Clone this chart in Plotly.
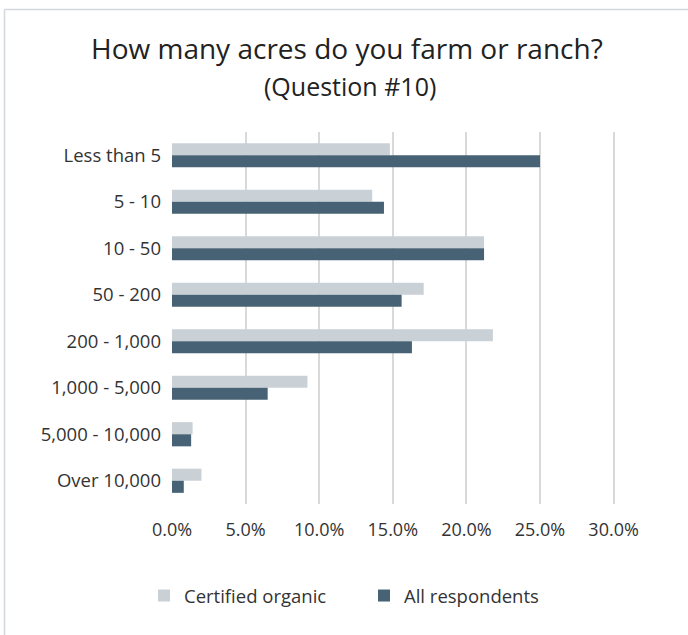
import plotly.graph_objects as go

categories = ["Less than 5", "5 - 10", "10 - 50", "50 - 200", "200 - 1,000",
              "1,000 - 5,000", "5,000 - 10,000", "Over 10,000"]
certified_organic = [14.8, 13.6, 21.2, 17.1, 21.8, 9.2, 1.4, 2.0]
all_respondents = [25.0, 14.4, 21.2, 15.6, 16.3, 6.5, 1.3, 0.8]
x_ticks = [0, 5, 10, 15, 20, 25, 30]
x_tick_labels = ["0.0%", "5.0%", "10.0%", "15.0%", "20.0%", "25.0%", "30.0%"]

FONT = "Open Sans"
TEXT = "#333333"

fig = go.Figure()
fig.add_trace(go.Bar(y=categories, x=certified_organic, orientation="h",
                     name="Certified organic",
                     marker=dict(color="#c9d1d7", line=dict(width=0))))
fig.add_trace(go.Bar(y=categories, x=all_respondents, orientation="h",
                     name="All respondents",
                     marker=dict(color="#476274", line=dict(width=0))))

W, H = 688, 635
L, R, T, B = 172, 70, 132, 131
pw, ph = W - L - R, H - T - B

def px_x(p):
    return (p - L) / pw

def px_y(p):
    return (H - B - p) / ph

BORDER = dict(color="#d3d8dd", width=1.5)

fig.update_layout(
    width=W, height=H,
    margin=dict(l=L, r=R, t=T, b=B, autoexpand=False),
    paper_bgcolor="white", plot_bgcolor="white",
    font=dict(family=FONT, color=TEXT, size=18),
    barmode="group", bargap=0.48, bargroupgap=0,
    showlegend=True,
    legend=dict(orientation="h", xref="container", yref="container",
                x=144 / W, xanchor="left",
                y=1 - 596 / H, yanchor="middle",
                font=dict(size=18.5, color=TEXT), entrywidth=175,
                bgcolor="rgba(0,0,0,0)"),
    xaxis=dict(range=[0, 30.3], tickvals=x_ticks, ticktext=x_tick_labels,
               showgrid=True, gridcolor="#d9d9d9", gridwidth=1.5,
               zeroline=False, showline=False, ticks="", fixedrange=True,
               tickfont=dict(size=18, color=TEXT), ticklabelstandoff=13),
    yaxis=dict(autorange="reversed", showgrid=False, zeroline=False,
               showline=False, ticks="", ticklabelstandoff=10, fixedrange=True,
               tickfont=dict(size=18.5, color=TEXT)),
    shapes=[
        dict(type="line", xref="paper", yref="paper",
             x0=px_x(4.5), x1=px_x(4.5), y0=px_y(9.5), y1=px_y(700),
             line=BORDER, layer="below"),
        dict(type="line", xref="paper", yref="paper",
             x0=px_x(4.5), x1=px_x(700), y0=px_y(9.5), y1=px_y(9.5),
             line=BORDER, layer="below"),
    ],
    annotations=[
        dict(text="How many acres do you farm or ranch?", xref="paper", yref="paper",
             x=px_x(347), y=px_y(48), xanchor="center", yanchor="middle",
             showarrow=False, font=dict(size=28, color="#222222", family=FONT)),
        dict(text="(Question #10)", xref="paper", yref="paper",
             x=px_x(349.5), y=px_y(86), xanchor="center", yanchor="middle",
             showarrow=False, font=dict(size=25, color="#222222", family=FONT)),
    ],
)

fig.write_html("out.html", config={"displayModeBar": False},
               post_script="document.body.style.margin='0';")
